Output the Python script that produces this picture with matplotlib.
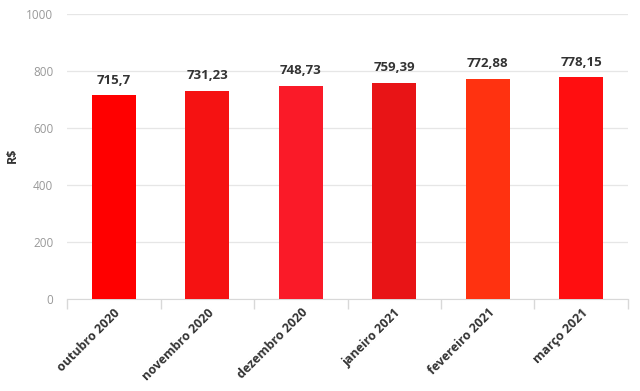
import matplotlib
matplotlib.use("Agg")
import matplotlib.pyplot as plt

# data
months = ["outubro 2020", "novembro 2020", "dezembro 2020",
          "janeiro 2021", "fevereiro 2021", "março 2021"]
values = [715.7, 731.23, 748.73, 759.39, 772.88, 778.15]
value_labels = ["715,7", "731,23", "748,73", "759,39", "772,88", "778,15"]
bar_colors = ["#ff0000", "#f51212", "#fa1a28", "#e81416", "#ff3210", "#ff0e10"]
y_ticks = [0, 200, 400, 600, 800, 1000]

plt.rcParams['font.family'] = ['Open Sans', 'DejaVu Sans']

fig = plt.figure(figsize=(6.4, 3.91), dpi=100)
ax = fig.add_axes([0.105, 0.235, 0.876, 0.729])

x = list(range(len(months)))
bars = ax.bar(x, values, width=0.47, color=bar_colors, zorder=3)

for b, lab in zip(bars, value_labels):
    ax.annotate(lab, (b.get_x() + b.get_width() / 2, b.get_height()),
                xytext=(0, 6), textcoords="offset points",
                ha="center", va="bottom", fontsize=9.5, fontweight="bold",
                color="#333333")

ax.set_xlim(-0.5, len(months) - 0.5)
ax.set_ylim(0, 1000)
ax.set_yticks(y_ticks)
ax.set_yticklabels([str(t) for t in y_ticks], color="#999999", fontsize=8.5)
ax.tick_params(axis="y", length=0, pad=10)
ax.grid(axis="y", color="#e6e6e6", lw=0.9, zorder=0)

# category ticks sit between bars, labels under bar centres
ax.set_xticks([i - 0.5 for i in range(len(months) + 1)])
ax.set_xticklabels([])
ax.tick_params(axis="x", length=7, color="#d8d8d8", width=1)
ax.set_xticks(x, minor=True)
ax.set_xticklabels(months, minor=True, rotation=45, ha="right",
                   rotation_mode="anchor", fontsize=9, fontweight="bold",
                   color="#333333")
ax.tick_params(axis="x", which="minor", length=0, pad=5)

for side in ["top", "right", "left"]:
    ax.spines[side].set_visible(False)
ax.spines["bottom"].set_color("#d8d8d8")

ax.set_ylabel("R$", fontsize=9, fontweight="bold", color="#333333")
ax.yaxis.set_label_coords(-0.087, 0.505)

fig.savefig("out.png", dpi=100)
